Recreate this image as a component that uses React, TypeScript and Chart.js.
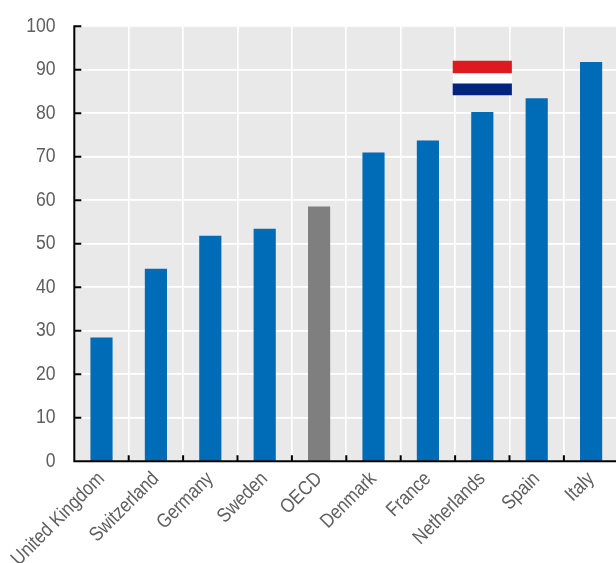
import React, { useEffect, useRef } from "react";
import { Chart, registerables } from "chart.js";

Chart.register(...registerables);

const categories = ["United Kingdom", "Switzerland", "Germany", "Sweden", "OECD", "Denmark", "France", "Netherlands", "Spain", "Italy"];
const values = [28.4, 44.2, 51.8, 53.4, 58.5, 70.9, 73.7, 80.2, 83.4, 91.7];
const barColors = ["#006BB6", "#006BB6", "#006BB6", "#006BB6", "#7F7F7F", "#006BB6", "#006BB6", "#006BB6", "#006BB6", "#006BB6"];
const flagCategory = "Netherlands";
const flagRed: [number, number] = [89.3, 92.0];
const flagWhite: [number, number] = [86.9, 89.3];
const flagBlue: [number, number] = [84.2, 86.9];
const yTicks = [0, 10, 20, 30, 40, 50, 60, 70, 80, 90, 100];

const textColor = "#5F5F5F";
const tickFont = "20px 'Liberation Sans', Arial, sans-serif";
const squeeze = 0.88;
const labelSqueeze = 0.86;

const flagSeries = (band: [number, number]) => categories.map((c) => (c === flagCategory ? band : null));

const backgroundAndTicks = {
  id: "backgroundAndTicks",
  beforeDraw(chart: any) {
    const { ctx, chartArea: a } = chart;
    ctx.save();
    ctx.fillStyle = "#E9E9E9";
    ctx.fillRect(a.left, a.top, a.right - a.left, a.bottom - a.top);
    ctx.restore();
  },
  afterDraw(chart: any) {
    const { ctx, chartArea: a, scales } = chart;
    ctx.save();
    ctx.strokeStyle = "#000000";
    ctx.lineWidth = 2;
    ctx.beginPath();
    ctx.moveTo(a.left, a.top - 1);
    ctx.lineTo(a.left, a.bottom + 1);
    ctx.moveTo(a.left, a.bottom);
    ctx.lineTo(a.right, a.bottom);
    yTicks.forEach((v) => {
      const y = scales.y.getPixelForValue(v);
      ctx.moveTo(a.left, y);
      ctx.lineTo(a.left + 7, y);
    });
    const step = scales.x.width / categories.length;
    categories.forEach((_, i) => {
      const x = scales.x.getPixelForValue(i) + step / 2;
      ctx.moveTo(x, a.bottom);
      ctx.lineTo(x, a.bottom - 6);
    });
    ctx.stroke();

    ctx.fillStyle = textColor;
    ctx.font = tickFont;
    ctx.textBaseline = "middle";
    ctx.textAlign = "right";
    yTicks.forEach((v) => {
      const y = scales.y.getPixelForValue(v);
      ctx.save();
      ctx.translate(55.5, y);
      ctx.scale(squeeze, 1);
      ctx.fillText(String(v), 0, 0);
      ctx.restore();
    });
    categories.forEach((c, i) => {
      const x = scales.x.getPixelForValue(i);
      ctx.save();
      ctx.translate(x, a.bottom + 14.5);
      ctx.rotate(-Math.PI / 4);
      ctx.scale(labelSqueeze, 1);
      ctx.fillText(c, 0, 0);
      ctx.restore();
    });
    ctx.restore();
  },
};

export default function App() {
  const ref = useRef<HTMLCanvasElement>(null);
  useEffect(() => {
    document.body.style.margin = "0";
    document.body.style.overflow = "hidden";
    const chart = new Chart(ref.current!, {
      type: "bar",
      data: {
        labels: categories,
        datasets: [
          { label: "Value", data: values, backgroundColor: barColors, barThickness: 21.5, order: 2 },
          { label: "Flag red", data: flagSeries(flagRed) as any, backgroundColor: "#DE1A21", barThickness: 58.5, order: 1 },
          { label: "Flag white", data: flagSeries(flagWhite) as any, backgroundColor: "#FFFFFF", barThickness: 58.5, order: 1 },
          { label: "Flag blue", data: flagSeries(flagBlue) as any, backgroundColor: "#00247F", barThickness: 58.5, order: 1 },
        ],
      },
      options: {
        responsive: false,
        animation: false,
        devicePixelRatio: 1,
        layout: { padding: { top: 26.3, left: 0, right: 1.7, bottom: 0 } },
        plugins: { legend: { display: false }, tooltip: { enabled: false } },
        datasets: { bar: { grouped: false } },
        scales: {
          x: {
            grid: { color: "#FFFFFF", lineWidth: 1.7, drawTicks: false, offset: true },
            border: { display: false },
            afterFit: (s: any) => { s.height = 101.7; },
            ticks: { display: false, autoSkip: false },
          },
          y: {
            min: 0,
            max: 100,
            grid: { color: "#FFFFFF", lineWidth: 1.7, drawTicks: false },
            border: { display: false },
            afterFit: (s: any) => { s.width = 74.3; },
            ticks: { display: false, stepSize: 10 },
          },
        },
      },
      plugins: [backgroundAndTicks],
    } as any);
    return () => chart.destroy();
  }, []);
  return (
    <div style={{ width: 616, height: 563, overflow: "hidden" }}>
      <canvas ref={ref} width={620} height={563} style={{ display: "block" }} />
    </div>
  );
}
